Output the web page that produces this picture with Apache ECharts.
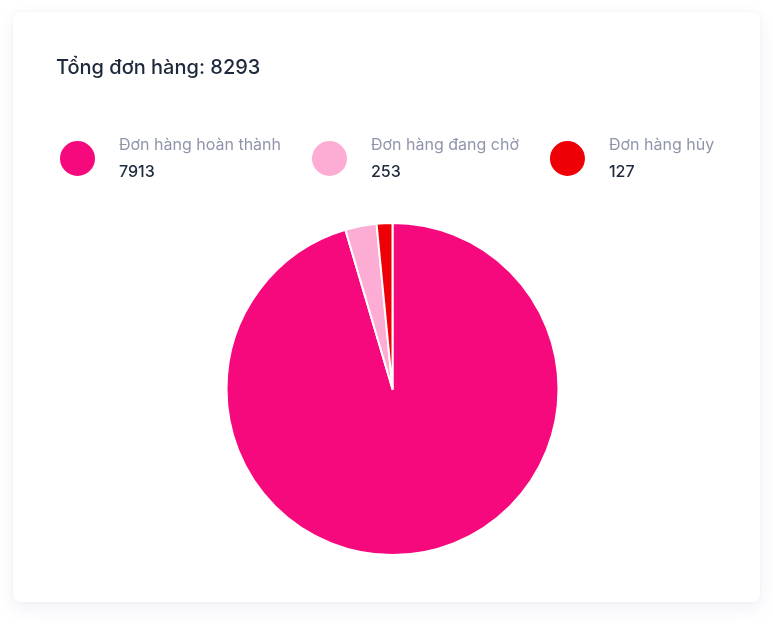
<!DOCTYPE html>
<html>
<head>
<meta charset="utf-8">
<script src="https://cdn.jsdelivr.net/npm/echarts@6/dist/echarts.min.js"></script>
<style>
  html, body { margin: 0; padding: 0; background: #ffffff; width: 773px; height: 625px; overflow: hidden; }
  #card { position: absolute; left: 13px; top: 12px; width: 747px; height: 590px; background: #fff;
          border-radius: 8px; box-shadow: 0 6px 18px rgba(120, 130, 190, 0.12), 0 0 4px rgba(120,130,190,0.06); }
  #chart { position: absolute; left: 0; top: 0; width: 773px; height: 625px; }
</style>
</head>
<body>
<div id="card"></div>
<div id="chart"></div>
<script>
const categories = ['Đơn hàng hoàn thành', 'Đơn hàng đang chờ', 'Đơn hàng hủy'];
const values = [7913, 253, 127];
const colors = ['#F5097D', '#FDADD4', '#EE0006'];
const total = values.reduce((a, b) => a + b, 0);

const chart = echarts.init(document.getElementById('chart'));
const valueMap = {};
categories.forEach((c, i) => { valueMap[c] = values[i]; });

chart.setOption({
  color: colors,
  title: {
    text: 'Tổng đơn hàng: ' + total,
    left: 56, top: 58, padding: 0,
    textStyle: { fontFamily: 'Inter', fontSize: 20, fontWeight: 500, color: '#1e293b' }
  },
  legend: {
    left: 58, top: 137, padding: 0,
    icon: 'circle',
    itemWidth: 37, itemHeight: 37,
    itemGap: 29,
    selectedMode: false,
    formatter: name => '{n|' + name + '}\n{v|' + valueMap[name] + '}',
    textStyle: {
      padding: [0, 0, 0, 18],
      rich: {
        n: { fontFamily: 'Inter', fontSize: 16, color: '#8f95aa', lineHeight: 27 },
        v: { fontFamily: 'Inter', fontSize: 16, fontWeight: 500, color: '#1e293b', lineHeight: 27 }
      }
    }
  },
  series: [{
    type: 'pie',
    center: [392.5, 389],
    radius: [0, 166],
    startAngle: 90,
    clockwise: true,
    label: { show: false },
    labelLine: { show: false },
    emphasis: { disabled: true },
    itemStyle: { borderColor: '#ffffff', borderWidth: 2 },
    data: categories.map((c, i) => ({ name: c, value: values[i] }))
  }]
});
</script>
</body>
</html>
